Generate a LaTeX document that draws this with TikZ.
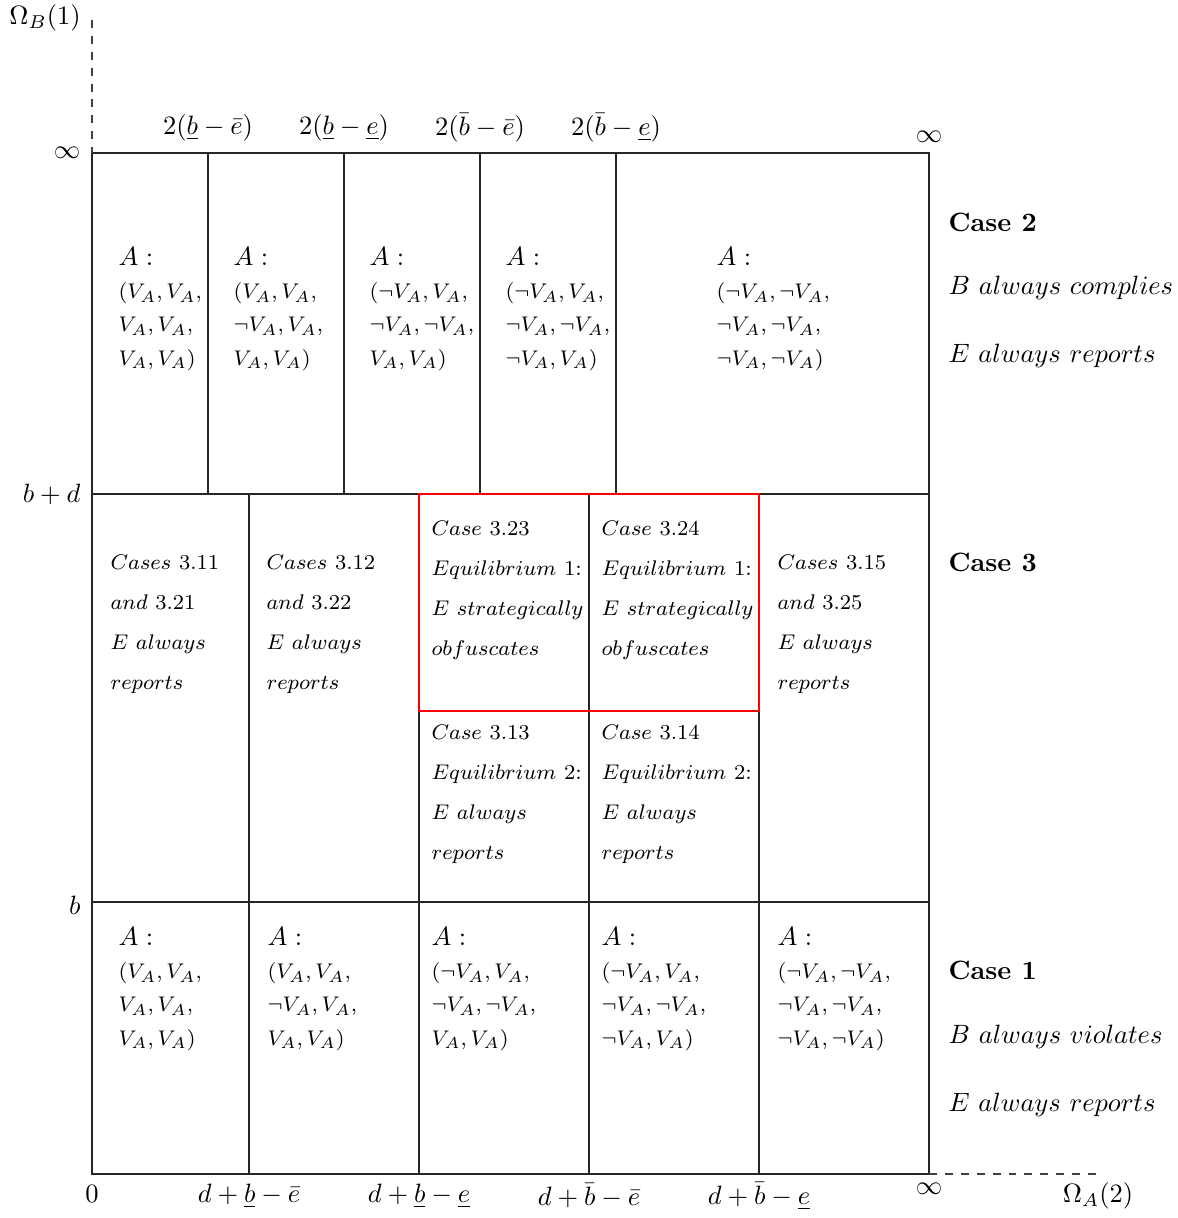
\documentclass[tikz,border=0pt]{standalone}
\usepackage{amsmath,amssymb}
\usepackage{tikz}
\usetikzlibrary{positioning,calc}

\newcommand{\nva}{\neg V_A}

\begin{document}
\begin{tikzpicture}[
  x=0.3774pt, y=-0.3774pt,
  grid/.style={black!85},
  hot/.style={red,thick},
  axis/.style={dashed,black!75},
  lab/.style={inner sep=0pt},
  cell/.style={anchor=north west,align=left,inner sep=0pt,font=\fontsize{8.2}{12.5}\selectfont},
  note/.style={anchor=north west,align=left,inner sep=0pt,font=\fontsize{8.2}{15.2}\selectfont},
  side/.style={anchor=west,inner sep=0pt},
]
  \useasboundingbox (0,0) rectangle (1178,1218);

  % Frame and the three bands
  \coordinate (O) at (92,1174);
  \coordinate (T) at (929,153);
  \draw[grid] (O) rectangle (T);
  \draw[grid] (92,494) -- (929,494);
  \draw[grid] (92,902) -- (929,902);

  % Dividers: top band / lower bands
  \foreach \xx in {208,344,480,616}
    \draw[grid] (\xx,153) -- (\xx,494);
  \foreach \xx in {249,419,589,759}
    \draw[grid] (\xx,494) -- (\xx,1174);

  % Equilibrium 1 region
  \draw[hot] (419,494) rectangle (759,711);

  % Axes
  \draw[axis] (92,20) -- (92,153);
  \draw[axis] (929,1174) -- (1097,1174);
  \node[lab] (omB) at (45,18) {$\Omega_B(1)$};
  \node[lab] (omA) at (1098,1196) {$\Omega_A(2)$};

  % Ticks on the left
  \node[lab,anchor=east] (yinf) at (81,153) {$\infty$};
  \node[lab,anchor=east] (ybd) at (81,494) {$b+d$};
  \node[lab,anchor=east] (yb) at (81,905) {$b$};

  % Ticks at the top
  \node[lab] (t1) at (208,128) {$2(\underline{b}-\bar{e})$};
  \node[lab] (t2) at (344,128) {$2(\underline{b}-\underline{e})$};
  \node[lab] (t3) at (480,128) {$2(\bar{b}-\bar{e})$};
  \node[lab] (t4) at (616,128) {$2(\bar{b}-\underline{e})$};
  \node[lab] (tinf) at (929,137) {$\infty$};

  % Ticks at the bottom
  \node[lab] (x0) at (92,1194) {$0$};
  \node[lab] (x1) at (249,1196) {$d+\underline{b}-\bar{e}$};
  \node[lab] (x2) at (419,1196) {$d+\underline{b}-\underline{e}$};
  \node[lab] (x3) at (589,1196) {$d+\bar{b}-\bar{e}$};
  \node[lab] (x4) at (759,1196) {$d+\bar{b}-\underline{e}$};
  \node[lab] (xinf) at (929,1189) {$\infty$};

  % Case 2 band
  \node[cell] (u1) at (118,247) {{\normalsize$A:$}\\$(V_A,V_A,$\\$V_A,V_A,$\\$V_A,V_A)$};
  \node[cell] (u2) at (233,247) {{\normalsize$A:$}\\$(V_A,V_A,$\\$\nva,V_A,$\\$V_A,V_A)$};
  \node[cell] (u3) at (369,247) {{\normalsize$A:$}\\$(\nva,V_A,$\\$\nva,\nva,$\\$V_A,V_A)$};
  \node[cell] (u4) at (505,247) {{\normalsize$A:$}\\$(\nva,V_A,$\\$\nva,\nva,$\\$\nva,V_A)$};
  \node[cell] (u5) at (716,247) {{\normalsize$A:$}\\$(\nva,\nva,$\\$\nva,\nva,$\\$\nva,\nva)$};

  % Case 3 band
  \node[note] (m1) at (110,554) {$Cases\ 3.11$\\$and\ 3.21$\\$E\ always$\\$reports$};
  \node[note] (m2) at (266,554) {$Cases\ 3.12$\\$and\ 3.22$\\$E\ always$\\$reports$};
  \node[note] (r1) at (431,520) {$Case\ 3.23$\\$Equilibrium\ 1$:\\$E\ strategically$\\$obfuscates$};
  \node[note] (r2) at (601,520) {$Case\ 3.24$\\$Equilibrium\ 1$:\\$E\ strategically$\\$obfuscates$};
  \node[note] (q1) at (431,724) {$Case\ 3.13$\\$Equilibrium\ 2$:\\$E\ always$\\$reports$};
  \node[note] (q2) at (601,724) {$Case\ 3.14$\\$Equilibrium\ 2$:\\$E\ always$\\$reports$};
  \node[note] (m5) at (777,554) {$Cases\ 3.15$\\$and\ 3.25$\\$E\ always$\\$reports$};

  % Case 1 band
  \node[cell] (d1) at (118,927) {{\normalsize$A:$}\\$(V_A,V_A,$\\$V_A,V_A,$\\$V_A,V_A)$};
  \node[cell] (d2) at (267,927) {{\normalsize$A:$}\\$(V_A,V_A,$\\$\nva,V_A,$\\$V_A,V_A)$};
  \node[cell] (d3) at (431,927) {{\normalsize$A:$}\\$(\nva,V_A,$\\$\nva,\nva,$\\$V_A,V_A)$};
  \node[cell] (d4) at (601,927) {{\normalsize$A:$}\\$(\nva,V_A,$\\$\nva,\nva,$\\$\nva,V_A)$};
  \node[cell] (d5) at (777,927) {{\normalsize$A:$}\\$(\nva,\nva,$\\$\nva,\nva,$\\$\nva,\nva)$};

  % Band captions
  \node[side] (k2) at (948,222) {\textbf{Case 2}};
  \node[side] (k2b) at (948,288) {$B\ always\ complies$};
  \node[side] (k2e) at (948,356) {$E\ always\ reports$};
  \node[side] (k3) at (948,562) {\textbf{Case 3}};
  \node[side] (k1) at (948,970) {\textbf{Case 1}};
  \node[side] (k1b) at (948,1037) {$B\ always\ violates$};
  \node[side] (k1e) at (948,1105) {$E\ always\ reports$};
\end{tikzpicture}
\end{document}
